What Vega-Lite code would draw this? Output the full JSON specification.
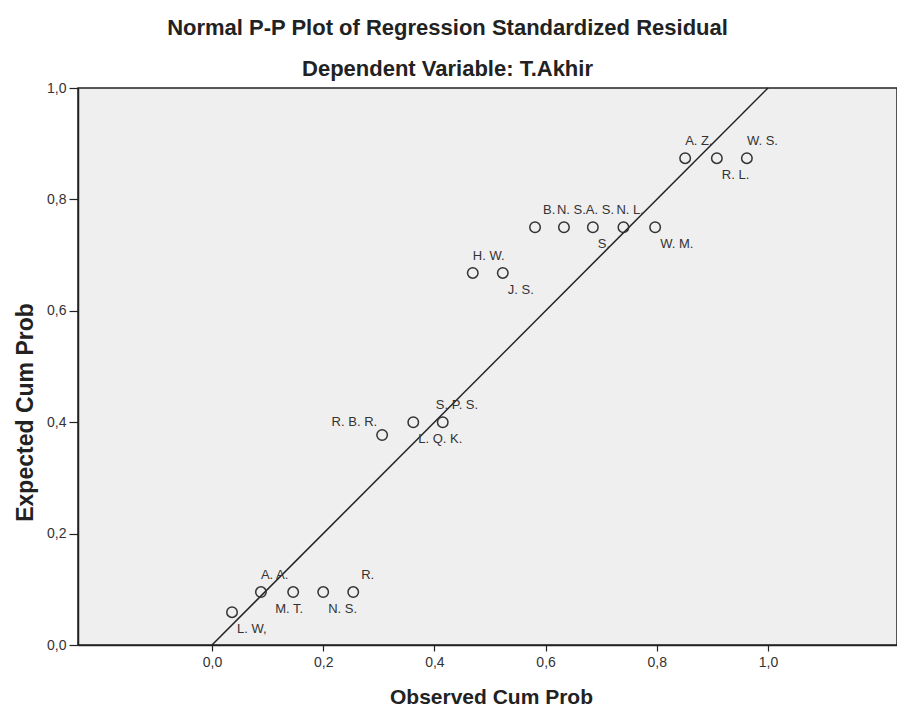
{
  "$schema": "https://vega.github.io/schema/vega-lite/v6.json",
  "width": 819,
  "height": 557,
  "autosize": "none",
  "padding": {"left": 78, "top": 88, "right": 0, "bottom": 62},
  "background": "#ffffff",
  "config": {
    "font": "Liberation Sans",
    "view": {"fill": "#efefef", "stroke": "#222222", "strokeWidth": 1.5}
  },
  "title": {
    "text": "Normal P-P Plot of Regression Standardized Residual",
    "subtitle": "Dependent Variable: T.Akhir",
    "anchor": "middle",
    "frame": "group",
    "dx": -40,
    "font": "Liberation Sans",
    "fontSize": 22,
    "fontWeight": "bold",
    "color": "#222222",
    "subtitleFont": "Liberation Sans",
    "subtitleFontSize": 22,
    "subtitleFontWeight": "bold",
    "subtitleColor": "#222222",
    "subtitlePadding": 19,
    "offset": 0
  },
  "datasets": {
    "points": [
      {"x": 0.036, "y": 0.059},
      {"x": 0.088, "y": 0.095},
      {"x": 0.146, "y": 0.095},
      {"x": 0.200, "y": 0.095},
      {"x": 0.254, "y": 0.095},
      {"x": 0.306, "y": 0.377},
      {"x": 0.362, "y": 0.400},
      {"x": 0.415, "y": 0.400},
      {"x": 0.469, "y": 0.668},
      {"x": 0.523, "y": 0.668},
      {"x": 0.581, "y": 0.750},
      {"x": 0.633, "y": 0.750},
      {"x": 0.685, "y": 0.750},
      {"x": 0.740, "y": 0.750},
      {"x": 0.797, "y": 0.750},
      {"x": 0.851, "y": 0.874},
      {"x": 0.908, "y": 0.874},
      {"x": 0.962, "y": 0.874}
    ],
    "labels": [
      {"x": 0.036, "y": 0.059, "label": "L. W,", "pos": "s"},
      {"x": 0.088, "y": 0.095, "label": "A. A.", "pos": "n"},
      {"x": 0.146, "y": 0.095, "label": "M. T.", "pos": "sw"},
      {"x": 0.200, "y": 0.095, "label": "N. S.", "pos": "s"},
      {"x": 0.254, "y": 0.095, "label": "R.", "pos": "ne"},
      {"x": 0.306, "y": 0.377, "label": "R. B. R.", "pos": "w"},
      {"x": 0.362, "y": 0.400, "label": "L. Q. K.", "pos": "s"},
      {"x": 0.415, "y": 0.400, "label": "S. P. S.", "pos": "nw"},
      {"x": 0.469, "y": 0.668, "label": "H. W.", "pos": "n"},
      {"x": 0.523, "y": 0.668, "label": "J. S.", "pos": "s"},
      {"x": 0.581, "y": 0.750, "label": "B.", "pos": "ne"},
      {"x": 0.633, "y": 0.750, "label": "N. S.", "pos": "nw"},
      {"x": 0.685, "y": 0.750, "label": "A. S.", "pos": "nw"},
      {"x": 0.685, "y": 0.750, "label": "S.", "pos": "s"},
      {"x": 0.740, "y": 0.750, "label": "N. L.", "pos": "nw"},
      {"x": 0.797, "y": 0.750, "label": "W. M.", "pos": "s"},
      {"x": 0.851, "y": 0.874, "label": "A. Z.", "pos": "n"},
      {"x": 0.908, "y": 0.874, "label": "R. L.", "pos": "s"},
      {"x": 0.962, "y": 0.874, "label": "W. S.", "pos": "n"}
    ],
    "ref": [
      {"x": 0, "y": 0},
      {"x": 1, "y": 1}
    ]
  },
  "encoding": {
    "x": {
      "field": "x",
      "type": "quantitative",
      "scale": {"domain": [-0.241, 1.232], "nice": false, "zero": false},
      "axis": {
        "values": [0, 0.2, 0.4, 0.6, 0.8, 1.0],
        "labelExpr": "replace(format(datum.value, '.1f'), '.', ',')",
        "grid": false,
        "labelFlush": false,
        "domainColor": "#222222",
        "domainWidth": 1.5,
        "tickColor": "#222222",
        "tickWidth": 1.2,
        "tickSize": 6,
        "labelPadding": 4,
        "labelFontSize": 14,
        "labelColor": "#333333",
        "title": "Observed Cum Prob",
        "titleFontSize": 21,
        "titleFontWeight": "bold",
        "titleColor": "#222222",
        "titleX": 413,
        "titleY": 52,
        "titleAlign": "center",
        "titleBaseline": "middle"
      }
    },
    "y": {
      "field": "y",
      "type": "quantitative",
      "scale": {"domain": [0, 1], "nice": false},
      "axis": {
        "values": [0, 0.2, 0.4, 0.6, 0.8, 1.0],
        "labelExpr": "replace(format(datum.value, '.1f'), '.', ',')",
        "grid": false,
        "labelFlush": false,
        "domainColor": "#222222",
        "domainWidth": 1.5,
        "tickColor": "#222222",
        "tickWidth": 1.2,
        "tickSize": 9,
        "labelPadding": 3,
        "labelFontSize": 14,
        "labelColor": "#333333",
        "title": "Expected Cum Prob",
        "titleFontSize": 23,
        "titleFontWeight": "bold",
        "titleColor": "#222222",
        "titleAngle": -90,
        "titleX": -53,
        "titleY": 324,
        "titleAlign": "center",
        "titleBaseline": "middle"
      }
    }
  },
  "layer": [
    {
      "data": {"name": "ref"},
      "mark": {"type": "line", "color": "#222222", "strokeWidth": 1.5}
    },
    {
      "data": {"name": "points"},
      "mark": {"type": "point", "shape": "circle", "filled": false, "size": 110, "stroke": "#333333", "strokeWidth": 1.5, "opacity": 1}
    },
    {
      "data": {"name": "labels"},
      "transform": [{"filter": "datum.pos == 'n'"}],
      "mark": {"type": "text", "dx": 0, "dy": -17, "fontSize": 13, "color": "#333333", "align": "left", "baseline": "middle"},
      "encoding": {"text": {"field": "label"}}
    },
    {
      "data": {"name": "labels"},
      "transform": [{"filter": "datum.pos == 'nw'"}],
      "mark": {"type": "text", "dx": -7, "dy": -17, "fontSize": 13, "color": "#333333", "align": "left", "baseline": "middle"},
      "encoding": {"text": {"field": "label"}}
    },
    {
      "data": {"name": "labels"},
      "transform": [{"filter": "datum.pos == 'ne'"}],
      "mark": {"type": "text", "dx": 8, "dy": -17, "fontSize": 13, "color": "#333333", "align": "left", "baseline": "middle"},
      "encoding": {"text": {"field": "label"}}
    },
    {
      "data": {"name": "labels"},
      "transform": [{"filter": "datum.pos == 's'"}],
      "mark": {"type": "text", "dx": 5, "dy": 17, "fontSize": 13, "color": "#333333", "align": "left", "baseline": "middle"},
      "encoding": {"text": {"field": "label"}}
    },
    {
      "data": {"name": "labels"},
      "transform": [{"filter": "datum.pos == 'sw'"}],
      "mark": {"type": "text", "dx": -18, "dy": 17, "fontSize": 13, "color": "#333333", "align": "left", "baseline": "middle"},
      "encoding": {"text": {"field": "label"}}
    },
    {
      "data": {"name": "labels"},
      "transform": [{"filter": "datum.pos == 'w'"}],
      "mark": {"type": "text", "dx": -5, "dy": -13, "fontSize": 13, "color": "#333333", "align": "right", "baseline": "middle"},
      "encoding": {"text": {"field": "label"}}
    }
  ]
}
